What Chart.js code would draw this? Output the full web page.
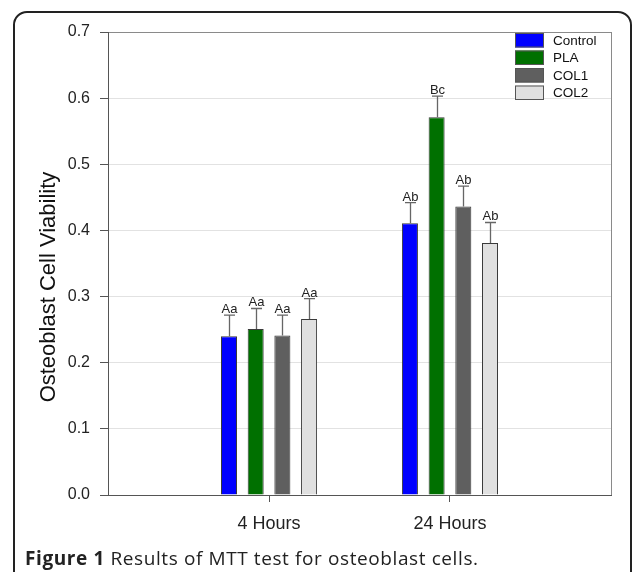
<!DOCTYPE html>
<html>
<head>
<meta charset="utf-8">
<script src="https://cdn.jsdelivr.net/npm/chart.js@4/dist/chart.umd.min.js"></script>
<style>
  html, body { margin: 0; padding: 0; background: #fff; }
  #wrap { position: relative; width: 633px; height: 572px; overflow: hidden; }
  #caption {
    position: absolute; left: 25px; top: 546px;
    font-family: "Open Sans", sans-serif; font-size: 19px; color: #222;
    letter-spacing: 0.6px;
    white-space: nowrap; line-height: 24px;
  }
  #caption b { font-weight: 700; }
</style>
</head>
<body>
<div id="wrap">
  <canvas id="chart" width="633" height="572"></canvas>
  <div id="caption"><b>Figure 1</b> Results of MTT test for osteoblast cells.</div>
</div>
<script>
  const groups = ['4 Hours', '24 Hours'];
  const groupPos = [1, 2];

  const seriesNames = ['Control', 'PLA', 'COL1', 'COL2'];
  const seriesColors = ['#0000ff', '#007000', '#5f5f5f', '#e0e0e0'];

  const controlValues = [0.240, 0.411];
  const plaValues = [0.251, 0.571];
  const col1Values = [0.241, 0.436];
  const col2Values = [0.266, 0.381];

  const controlErr = [0.032, 0.031];
  const plaErr = [0.031, 0.032];
  const col1Err = [0.031, 0.031];
  const col2Err = [0.031, 0.031];

  const controlLetters = ['Aa', 'Ab'];
  const plaLetters = ['Aa', 'Bc'];
  const col1Letters = ['Aa', 'Ab'];
  const col2Letters = ['Aa', 'Ab'];

  const yTicks = [0, 0.1, 0.2, 0.3, 0.4, 0.5, 0.6, 0.7];

  const allValues = [controlValues, plaValues, col1Values, col2Values];
  const allErr = [controlErr, plaErr, col1Err, col2Err];
  const allLetters = [controlLetters, plaLetters, col1Letters, col2Letters];

  const datasets = seriesNames.map((name, i) => ({
    label: name,
    data: allValues[i].map((v, j) => ({ x: groupPos[j], y: v })),
    backgroundColor: seriesColors[i],
    borderColor: '#3a3a3a',
    borderWidth: 1,
    err: allErr[i],
    letters: allLetters[i],
    barPercentage: 0.6,
    categoryPercentage: 0.59
  }));

  const extras = {
    id: 'extras',
    beforeDraw(chart) {
      const ctx = chart.ctx;
      ctx.save();
      // outer figure frame
      ctx.strokeStyle = '#222';
      ctx.lineWidth = 2;
      ctx.beginPath();
      ctx.moveTo(14, 580);
      ctx.lineTo(14, 25);
      ctx.arcTo(14, 12, 27, 12, 13);
      ctx.lineTo(618, 12);
      ctx.arcTo(631, 12, 631, 25, 13);
      ctx.lineTo(631, 580);
      ctx.stroke();
      ctx.restore();
    },
    afterDatasetsDraw(chart) {
      const ctx = chart.ctx;
      const area = chart.chartArea;
      const y = chart.scales.y;
      ctx.save();

      // right border of plot
      ctx.strokeStyle = '#8a8a8a';
      ctx.lineWidth = 1;
      ctx.beginPath();
      ctx.moveTo(area.right + 0.5, area.top);
      ctx.lineTo(area.right + 0.5, area.bottom);
      ctx.stroke();

      // error bars + letters
      chart.data.datasets.forEach((ds, i) => {
        const meta = chart.getDatasetMeta(i);
        meta.data.forEach((bar, j) => {
          const top = y.getPixelForValue(allValues[i][j] + ds.err[j]);
          const x = Math.round(bar.x) + 0.5;
          ctx.strokeStyle = '#666';
          ctx.lineWidth = 1.3;
          ctx.beginPath();
          ctx.moveTo(x, bar.y);
          ctx.lineTo(x, top);
          ctx.moveTo(x - 5.5, top);
          ctx.lineTo(x + 5.5, top);
          ctx.stroke();
          ctx.fillStyle = '#222';
          ctx.font = '13px "Liberation Sans", Arial, sans-serif';
          ctx.textAlign = 'center';
          ctx.textBaseline = 'alphabetic';
          ctx.fillText(ds.letters[j], x, top - 2);
        });
      });

      // legend
      const lx = area.right - 96;
      const rowTop = [33, 50.5, 68, 85.5];
      ctx.font = '13.5px "Liberation Sans", Arial, sans-serif';
      ctx.textAlign = 'left';
      ctx.textBaseline = 'middle';
      chart.data.datasets.forEach((ds, i) => {
        ctx.fillStyle = ds.backgroundColor;
        ctx.fillRect(lx, rowTop[i], 29, 14.5);
        ctx.strokeStyle = '#555';
        ctx.lineWidth = 1;
        ctx.strokeRect(lx + 0.5, rowTop[i] + 0.5, 28, 13.5);
        ctx.fillStyle = '#111';
        ctx.fillText(ds.label, lx + 38, rowTop[i] + 8);
      });

      // y axis title
      ctx.translate(49, 287);
      ctx.rotate(-Math.PI / 2);
      ctx.font = '22px "Liberation Sans", Arial, sans-serif';
      ctx.fillStyle = '#111';
      ctx.textAlign = 'center';
      ctx.textBaseline = 'middle';
      ctx.fillText('Osteoblast Cell Viability', 0, 0);
      ctx.restore();
    }
  };

  new Chart(document.getElementById('chart'), {
    type: 'bar',
    data: { datasets: datasets },
    plugins: [extras],
    options: {
      responsive: false,
      animation: false,
      layout: { padding: { top: 32, right: 22, left: 0, bottom: 0 } },
      plugins: { legend: { display: false }, tooltip: { enabled: false } },
      scales: {
        x: {
          type: 'linear',
          min: 0.11,
          max: 2.89,
          offset: false,
          afterBuildTicks: (axis) => { axis.ticks = groupPos.map(v => ({ value: v })); },
          afterFit: (axis) => { axis.height = 77; },
          ticks: {
            callback: (v) => groups[groupPos.indexOf(v)],
            font: { family: '"Liberation Sans", Arial, sans-serif', size: 18 },
            color: '#222',
            padding: 11,
            maxRotation: 0
          },
          grid: { display: true, drawOnChartArea: false, drawTicks: true, tickLength: 7, tickColor: '#555', offset: false },
          border: { display: true, color: '#555', width: 1 }
        },
        y: {
          min: 0,
          max: 0.7,
          afterBuildTicks: (axis) => { axis.ticks = yTicks.map(v => ({ value: v })); },
          afterFit: (axis) => { axis.width = 108; },
          ticks: {
            callback: (v) => v.toFixed(1),
            font: { family: '"Liberation Sans", Arial, sans-serif', size: 16 },
            color: '#222',
            padding: 10
          },
          grid: {
            color: (c) => Math.abs(c.tick.value - 0.7) < 1e-6 ? '#8a8a8a' : '#e2e2e2',
            tickColor: '#555',
            tickLength: 8,
            lineWidth: 1
          },
          border: { display: true, color: '#555', width: 1 }
        }
      }
    }
  });
</script>
</body>
</html>
